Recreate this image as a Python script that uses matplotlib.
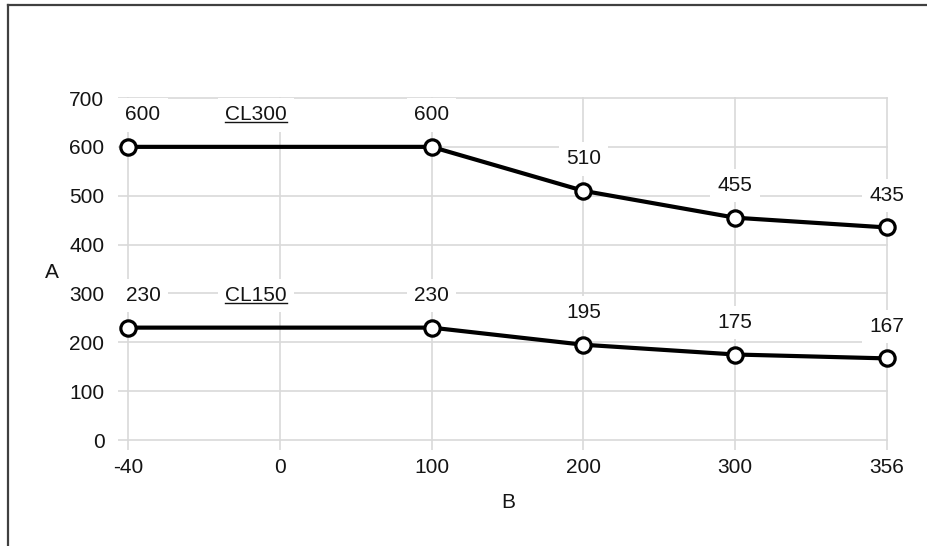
import matplotlib.pyplot as plt
from matplotlib.lines import Line2D

# Category axis (evenly spaced), series values
categories = ['-40', '0', '100', '200', '300', '356']
b_values = ['-40', '100', '200', '300', '356']
cl300 = [600, 600, 510, 455, 435]
cl150 = [230, 230, 195, 175, 167]
y_ticks = [0, 100, 200, 300, 400, 500, 600, 700]

plt.rcParams['font.family'] = ['Liberation Sans', 'DejaVu Sans']
text_color = '#141414'
grid_color = '#d9d9d9'
fs = 15

W, H = 928, 546
fig = plt.figure(figsize=(W / 100, H / 100), dpi=100)
ax = fig.add_axes([128 / W, 106 / H, 759 / W, 342 / H])

xpos = [categories.index(b) for b in b_values]
label_box = dict(boxstyle='square,pad=0.35', fc='white', ec='none')
names = []
for name, vals in [('CL300', cl300), ('CL150', cl150)]:
    ax.plot(xpos, vals, color='black', lw=3, marker='o', ms=11,
            mfc='white', mec='black', mew=2.3, zorder=5, clip_on=False)
    for i, (x, v) in enumerate(zip(xpos, vals)):
        dx = 15 if i == 0 else 0
        ax.annotate(str(v), (x, v), xytext=(dx, 32), textcoords='offset pixels',
                    ha='center', va='center', fontsize=fs, color=text_color,
                    bbox=label_box, zorder=4)
    t = ax.annotate(name, (xpos[0], vals[0]), xytext=(128, 32),
                    textcoords='offset pixels', ha='center', va='center',
                    fontsize=fs, color=text_color, bbox=label_box, zorder=4)
    names.append(t)

ax.set_xlim(0, len(categories) - 1)
ax.set_ylim(0, 700)
ax.set_xticks(range(len(categories)))
ax.set_xticklabels(categories)
ax.set_yticks(y_ticks)
ax.grid(True, color=grid_color, lw=1.2)
ax.set_axisbelow(True)
for gl in ax.get_xgridlines() + ax.get_ygridlines():
    gl.set_clip_on(False)
for s in ax.spines.values():
    s.set_visible(False)
ax.tick_params(axis='both', length=7, width=1.2, color=grid_color,
               labelsize=fs, labelcolor=text_color)
ax.tick_params(axis='x', pad=6)
ax.tick_params(axis='y', pad=10)

fig.text(52 / W, 1 - 272 / H, 'A', ha='center', va='center', fontsize=fs, color=text_color)
fig.text(508 / W, 1 - 502 / H, 'B', ha='center', va='center', fontsize=fs, color=text_color)

# underline the series names
fig.canvas.draw()
renderer = fig.canvas.get_renderer()
for t in names:
    bb = t.get_window_extent(renderer)
    y = (bb.y0 + 2) / H
    fig.add_artist(Line2D([bb.x0 / W, bb.x1 / W], [y, y], color=text_color, lw=1))

# outer chart border (only top and left edges visible)
fig.add_artist(Line2D([8 / W, 1], [1 - 5 / H, 1 - 5 / H], color='#404040', lw=1.6))
fig.add_artist(Line2D([8 / W, 8 / W], [0, 1 - 5 / H], color='#404040', lw=1.6))

fig.savefig('out.png', dpi=100)
